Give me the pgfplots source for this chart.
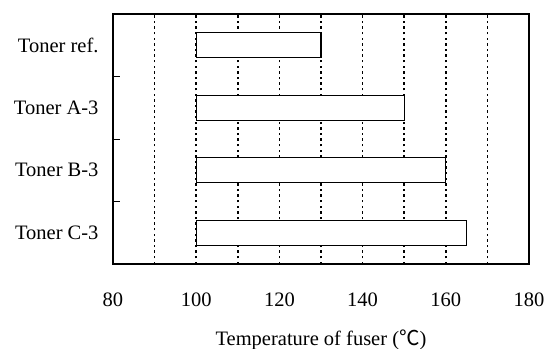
\documentclass[border=0pt]{standalone}
\usepackage{fontspec}
\setmainfont{Liberation Serif}
\newfontfamily\cjk{Noto Sans CJK JP}
\usepackage{pgfplots}
\pgfplotsset{compat=1.18}
\begin{document}
\begin{tikzpicture}
\path[use as bounding box] (-113pt,-84pt) rectangle (433pt,264pt);
\begin{axis}[
  at={(0,0)}, anchor=south west,
  scale only axis, width=416pt, height=250pt,
  xmin=80, xmax=180, ymin=0, ymax=4,
  xbar stacked, bar width=25pt,
  xtick={80,90,...,180},
  xticklabels={80,,100,,120,,140,,160,,180},
  xtick style={draw=none},
  xmajorgrids,
  major grid style={black, line width=1.6pt, dash pattern=on 2.4pt off 3.2pt},
  ytick={1,2,3}, yticklabels={},
  ytick pos=left,
  y tick style={black, line width=0.8pt},
  major tick length=7pt,
  tick align=inside,
  extra y ticks={0.5,1.5,2.5,3.5},
  extra y tick labels={Toner C-3,Toner B-3,Toner A-3,Toner ref.},
  extra y tick style={major tick length=0pt},
  axis line style={black, line width=1.3pt},
  tick label style={font=\fontsize{20.5}{24}\selectfont},
  xticklabel style={anchor=base, yshift=-42pt},
  yticklabel style={xshift=-11pt},
  xlabel={Temperature of fuser ({\cjk ℃})},
  x label style={font=\fontsize{20.5}{24}\selectfont, at={(axis description cs:0.5,0)}, anchor=base, yshift=-81pt},
  /pgf/number format/assume math mode=true,
]
\addplot[draw=none, fill=none] coordinates {(100,0.5) (100,1.5) (100,2.5) (100,3.5)};
\addplot[draw=black, fill=white, line width=1.1pt] coordinates {(65,0.5) (60,1.5) (50,2.5) (30,3.5)};
\end{axis}
\end{tikzpicture}
\end{document}
